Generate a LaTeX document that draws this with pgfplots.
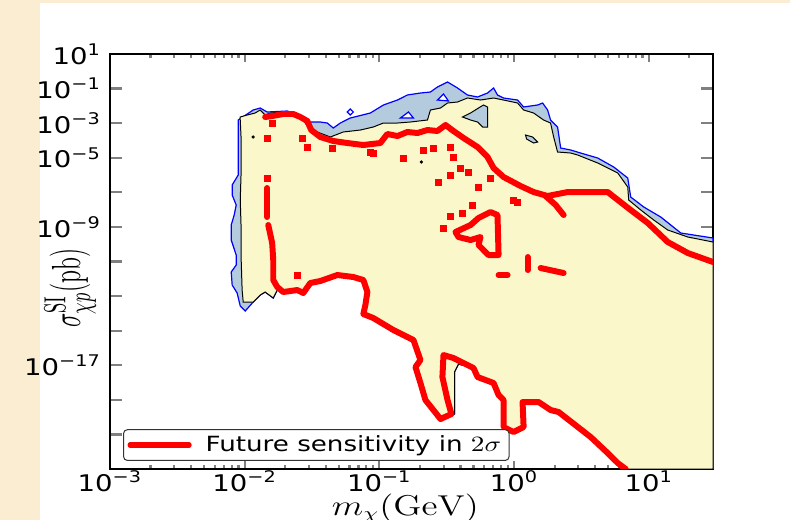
\documentclass[border=0pt]{standalone}
\usepackage[no-math]{fontspec}
\setmainfont{DejaVu Sans}
\usepackage{graphicx}
\usepackage{pgfplots}
\pgfplotsset{compat=1.18}
\definecolor{cream}{RGB}{251,237,210}
\definecolor{fillyel}{RGB}{250,248,202}
\definecolor{fillblue}{RGB}{180,203,222}
\newcommand{\tl}[1]{\scalebox{1.2}[1]{10\textsuperscript{#1}}}
\begin{document}
\begin{tikzpicture}
\fill[white] (0,0) rectangle (395bp,260bp);
\fill[cream] (0,0) rectangle (20bp,260bp);
\fill[cream] (0,258.5bp) rectangle (395bp,260bp);
\begin{axis}[
  at={(55bp,25.5bp)}, anchor=south west,
  scale only axis, width=301.5bp, height=207.5bp,
  xmin=-3, xmax=1.477, ymin=-23, ymax=1,
  axis line style={line width=0.6pt},
  xtick={-3,-2,-1,0,1},
  xticklabels={\tl{−3},\tl{−2},\tl{−1},\tl{0},\tl{1}},
  minor xtick={-2.699,-2.523,-2.398,-2.301,-2.222,-2.155,-2.097,-2.046,-1.699,-1.523,-1.398,-1.301,-1.222,-1.155,-1.097,-1.046,-0.699,-0.523,-0.398,-0.301,-0.222,-0.155,-0.097,-0.046,0.301,0.477,0.602,0.699,0.778,0.845,0.903,0.954,1.301},
  ytick={1,-1,-3,-5,-7,-9,-11,-13,-15,-17,-19,-21,-23},
  yticklabels={\tl{1},\tl{−1},\tl{−3},\tl{−5},{},\tl{−9},{},{},{},\tl{−17},{},{},{}},
  tick align=inside,
  xtick pos=both, ytick pos=both,
  major tick length=6pt,
  xtick style={line width=1.1pt, /pgfplots/major tick length=4pt, /pgfplots/minor tick length=2pt},
  ytick style={line width=1.1pt},
  tick label style={font=\fontsize{11.5}{13}\selectfont},
  yticklabel style={xshift=-1bp},
  xticklabel style={yshift=2.5bp},
  xlabel={\scalebox{1.28}[1]{\fontsize{13.5}{15}\selectfont $m_\chi(\mathrm{GeV})$}},
  xlabel style={at={(axis description cs:0.49,-0.095)}, anchor=center},
  ylabel={\scalebox{1}[1.7]{\fontsize{13}{15}\selectfont $\sigma^{\mathrm{SI}}_{\chi p}(\mathrm{pb})$}},
  ylabel style={at={(axis description cs:-0.066,0.436)}, anchor=center},
  legend style={at={(axis description cs:0.0216,0.0193)}, anchor=south west,
    rounded corners=2pt, draw=black!80, line width=0.5pt,
    font=\fontsize{10.5}{12.5}\selectfont, inner ysep=1bp, inner xsep=2bp},
  legend cell align=left,
  legend image code/.code={\draw[#1, line width=2.6pt] (0bp,0bp) -- (29.5bp,0bp);},
]
% outer (blue) region
\addplot[fill=fillblue, draw=blue, line width=0.6pt, forget plot] coordinates {
(-1.996,-13.864) (-2.033,-13.575) (-2.056,-12.823) (-2.093,-12.360) (-2.100,-11.608)
(-2.063,-11.204) (-2.063,-10.625) (-2.100,-9.758) (-2.100,-8.890) (-2.078,-8.312)
(-2.063,-7.733) (-2.093,-7.155) (-2.093,-6.577) (-2.048,-5.998) (-2.048,-3.685)
(-2.048,-2.817) (-1.981,-2.470) (-1.937,-2.239) (-1.885,-2.123) (-1.833,-2.355)
(-1.684,-2.297) (-1.610,-2.470) (-1.550,-2.702) (-1.513,-2.933) (-1.439,-2.933)
(-1.387,-2.991) (-1.342,-3.280) (-1.290,-2.991) (-1.216,-2.702) (-1.067,-2.412)
(-0.970,-1.950) (-0.866,-1.661) (-0.792,-1.371) (-0.695,-1.256) (-0.621,-1.198)
(-0.569,-0.909) (-0.494,-0.619) (-0.420,-0.966) (-0.346,-1.371) (-0.271,-1.487)
(-0.197,-1.256) (-0.152,-0.966) (-0.123,-1.371) (-0.078,-1.545) (0.026,-1.661)
(0.071,-2.065) (0.175,-1.950) (0.212,-1.834) (0.249,-2.239) (0.271,-2.817)
(0.323,-3.222) (0.346,-4.437) (0.420,-4.552) (0.494,-4.726) (0.621,-5.015)
(0.740,-5.536) (0.844,-6.172) (0.866,-7.271) (0.963,-7.849) (1.089,-8.427)
(1.238,-9.353) (1.477,-9.642) (1.477,-23)
(0.829,-23) (0.770,-22.655) (0.695,-22.077) (0.569,-21.152) (0.331,-19.706)
(0.271,-19.590) (0.182,-19.127) (0.063,-19.127) (0.071,-20.573) (-0.004,-20.862)
(-0.078,-20.573) (-0.078,-19.012) (-0.115,-18.722) (-0.152,-18.028) (-0.271,-17.681)
(-0.301,-17.161) (-0.413,-16.929) (-0.442,-17.392) (-0.442,-19.821) (-0.546,-20.110)
(-0.658,-19.012) (-0.695,-18.028) (-0.732,-17.103) (-0.695,-16.698) (-0.747,-15.541)
(-0.896,-14.963) (-1.045,-14.269) (-1.119,-14.038) (-1.104,-13.517) (-1.089,-12.765)
(-1.119,-12.071) (-1.193,-11.898) (-1.312,-11.782) (-1.439,-12.129) (-1.513,-12.245)
(-1.565,-12.823) (-1.610,-12.650) (-1.714,-12.765) (-1.758,-12.650) (-1.788,-13.112)
(-1.848,-12.765) (-1.885,-12.939) (-1.937,-13.344)
} -- cycle;
% inner (yellow) region
\addplot[fill=fillyel, draw=black, line width=0.5pt, forget plot] coordinates {
(-2.033,-2.644) (-1.981,-2.528) (-1.922,-2.412) (-1.885,-2.239) (-1.848,-2.528)
(-1.810,-2.412) (-1.714,-2.355) (-1.639,-2.412) (-1.587,-2.586) (-1.535,-3.164)
(-1.461,-3.511) (-1.364,-3.800) (-1.268,-3.511) (-1.141,-3.396) (-1.045,-3.222)
(-0.970,-2.991) (-0.866,-2.991) (-0.770,-2.933) (-0.643,-2.817) (-0.621,-2.239)
(-0.546,-2.123) (-0.494,-1.834) (-0.420,-1.776) (-0.346,-1.545) (-0.249,-1.661)
(-0.152,-1.545) (-0.078,-1.661) (0.026,-1.834) (0.071,-2.239) (0.145,-2.412)
(0.219,-2.817) (0.271,-2.991) (0.294,-3.800) (0.323,-4.668) (0.420,-4.726)
(0.472,-4.842) (0.621,-5.304) (0.770,-5.883) (0.844,-6.692) (0.851,-7.444)
(0.941,-8.023) (1.037,-8.601) (1.141,-9.179) (1.290,-9.584) (1.477,-9.873)
(1.477,-23)
(0.829,-23) (0.770,-22.655) (0.695,-22.077) (0.569,-21.152) (0.331,-19.706)
(0.271,-19.590) (0.182,-19.127) (0.063,-19.127) (0.071,-20.573) (-0.004,-20.862)
(-0.078,-20.573) (-0.078,-19.012) (-0.115,-18.722) (-0.152,-18.028) (-0.271,-17.681)
(-0.301,-17.161) (-0.413,-16.929) (-0.442,-17.392) (-0.442,-19.821) (-0.546,-20.110)
(-0.658,-19.012) (-0.695,-18.028) (-0.732,-17.103) (-0.695,-16.698) (-0.747,-15.541)
(-0.896,-14.963) (-1.045,-14.269) (-1.119,-14.038) (-1.104,-13.517) (-1.089,-12.765)
(-1.119,-12.071) (-1.193,-11.898) (-1.312,-11.782) (-1.439,-12.129) (-1.513,-12.245)
(-1.565,-12.823) (-1.610,-12.650) (-1.714,-12.765) (-1.758,-12.650) (-1.788,-13.112)
(-1.848,-12.765) (-1.885,-12.939) (-1.937,-13.344) (-2.011,-13.344)
(-2.019,-12.650) (-2.026,-10.914) (-2.026,-9.179) (-2.033,-7.444) (-2.026,-5.709)
(-2.026,-3.974) (-2.033,-2.817)
} -- cycle;
% blue patches inside the yellow region
\addplot[fill=fillblue, draw=black, line width=0.5pt, forget plot] coordinates {
(-0.383,-2.644) (-0.323,-2.412) (-0.264,-2.123) (-0.227,-1.950) (-0.197,-2.065)
(-0.197,-3.222) (-0.234,-3.222) (-0.271,-2.933) (-0.323,-2.817)
} -- cycle;
\addplot[fill=fillblue, draw=black, line width=0.5pt, forget plot] coordinates {
(0.085,-3.685) (0.138,-3.800) (0.175,-4.090) (0.145,-4.148) (0.093,-3.916)
} -- cycle;
% white islands inside the blue band
\addplot[fill=white, draw=blue, line width=0.6pt, forget plot] coordinates {
(-0.569,-1.661) (-0.524,-1.313) (-0.487,-1.718)} -- cycle;
\addplot[fill=white, draw=blue, line width=0.6pt, forget plot] coordinates {
(-0.844,-2.702) (-0.784,-2.355) (-0.747,-2.702)} -- cycle;
\addplot[fill=white, draw=blue, line width=0.6pt, forget plot] coordinates {
(-1.238,-2.355) (-1.216,-2.181) (-1.193,-2.355) (-1.216,-2.528)} -- cycle;
% small black points
\addplot[only marks, mark=*, mark size=0.6pt, black, forget plot] coordinates {
(-1.937,-3.800) (-0.688,-5.246)};
% red islands of the future sensitivity contour
\addplot[only marks, mark=square*, mark size=1.5pt, red, forget plot] coordinates {
(-1.796,-2.991) (-1.833,-3.858) (-1.535,-4.379) (-1.349,-4.437) (-1.833,-6.172)
(-1.610,-11.782) (-1.045,-4.726) (-1.572,-3.858) (-0.822,-5.015) (-0.673,-4.552)
(-0.599,-4.437) (-0.472,-4.379) (-0.450,-4.957) (-0.398,-5.593) (-0.472,-5.998)
(-0.561,-6.403) (-0.338,-5.825) (-0.264,-6.692) (-0.175,-6.172) (-0.004,-7.444)
(-0.524,-9.064) (-0.472,-8.370) (-0.383,-8.196) (-0.309,-7.733) (0.026,-7.560)
(-1.067,-4.668)
};
\addplot[red, line width=3pt, line join=round, line cap=round, forget plot] coordinates {
(-0.435,-9.295) (-0.323,-8.890) (-0.264,-8.485) (-0.175,-8.138) (-0.123,-8.312)
(-0.115,-10.625) (-0.190,-10.625) (-0.264,-10.047) (-0.249,-9.584) (-0.323,-9.758)
(-0.413,-9.584)} -- cycle;
\addplot[red, line width=3pt, line cap=round, forget plot] coordinates {(0.100,-10.741) (0.100,-11.493)};
\addplot[red, line width=3pt, line cap=round, forget plot] coordinates {(0.197,-11.377) (0.368,-11.666)};
\addplot[red, line width=3pt, line cap=round, forget plot] coordinates {(-0.115,-11.782) (-0.048,-11.782)};
\addplot[red, line width=3pt, line cap=round, forget plot] coordinates {(-1.833,-6.750) (-1.833,-8.427)};
\addplot[red, line width=3pt, line cap=round, forget plot] coordinates {(0.234,-7.213) (0.309,-7.733) (0.368,-8.312)};
% upper branch of the future sensitivity contour
\addplot[red, line width=3pt, line join=round, line cap=round, forget plot] coordinates {
(-1.848,-2.644) (-1.796,-2.586) (-1.714,-2.470) (-1.639,-2.470) (-1.587,-2.644)
(-1.535,-2.875) (-1.506,-3.396) (-1.439,-3.800) (-1.342,-4.032) (-1.238,-4.148)
(-1.119,-4.263) (-0.993,-4.148) (-0.941,-3.627) (-0.866,-3.743) (-0.792,-3.511)
(-0.717,-3.569) (-0.643,-3.396) (-0.569,-3.453) (-0.509,-3.106) (-0.450,-3.453)
(-0.375,-3.858) (-0.271,-4.379) (-0.197,-4.957) (-0.152,-5.593) (-0.078,-6.114)
(0.048,-6.634) (0.145,-6.982) (0.249,-7.213) (0.398,-6.982) (0.695,-6.982)
(0.866,-8.023) (0.993,-8.774) (1.141,-9.873) (1.290,-10.510) (1.477,-11.030)
};
% lower branch of the future sensitivity contour
\addplot[red, line width=3pt, line join=round, line cap=round] coordinates {
(-1.825,-8.890) (-1.796,-9.931) (-1.788,-10.914) (-1.788,-12.071) (-1.758,-12.476)
(-1.714,-12.765) (-1.610,-12.650) (-1.565,-12.823) (-1.513,-12.245) (-1.439,-12.129)
(-1.312,-11.782) (-1.193,-11.898) (-1.119,-12.071) (-1.089,-12.765) (-1.104,-13.517)
(-1.119,-14.038) (-1.045,-14.269) (-0.896,-14.963) (-0.747,-15.541) (-0.695,-16.698)
(-0.732,-17.103) (-0.695,-18.028) (-0.658,-19.012) (-0.546,-20.110) (-0.465,-19.821)
(-0.494,-19.012) (-0.532,-17.681) (-0.524,-16.409) (-0.450,-16.582) (-0.301,-17.161)
(-0.271,-17.681) (-0.152,-18.028) (-0.115,-18.722) (-0.078,-19.012) (-0.078,-20.573)
(-0.004,-20.862) (0.071,-20.573) (0.063,-19.127) (0.182,-19.127) (0.271,-19.590)
(0.331,-19.706) (0.569,-21.152) (0.695,-22.077) (0.770,-22.655) (0.829,-23)
};
\addlegendentry{\hspace{5bp}\scalebox{1.25}[1]{Future sensitivity in $2\sigma$}}
\end{axis}
\pgfresetboundingbox
\path (0,0) rectangle (395bp,260bp);
\end{tikzpicture}
\end{document}
